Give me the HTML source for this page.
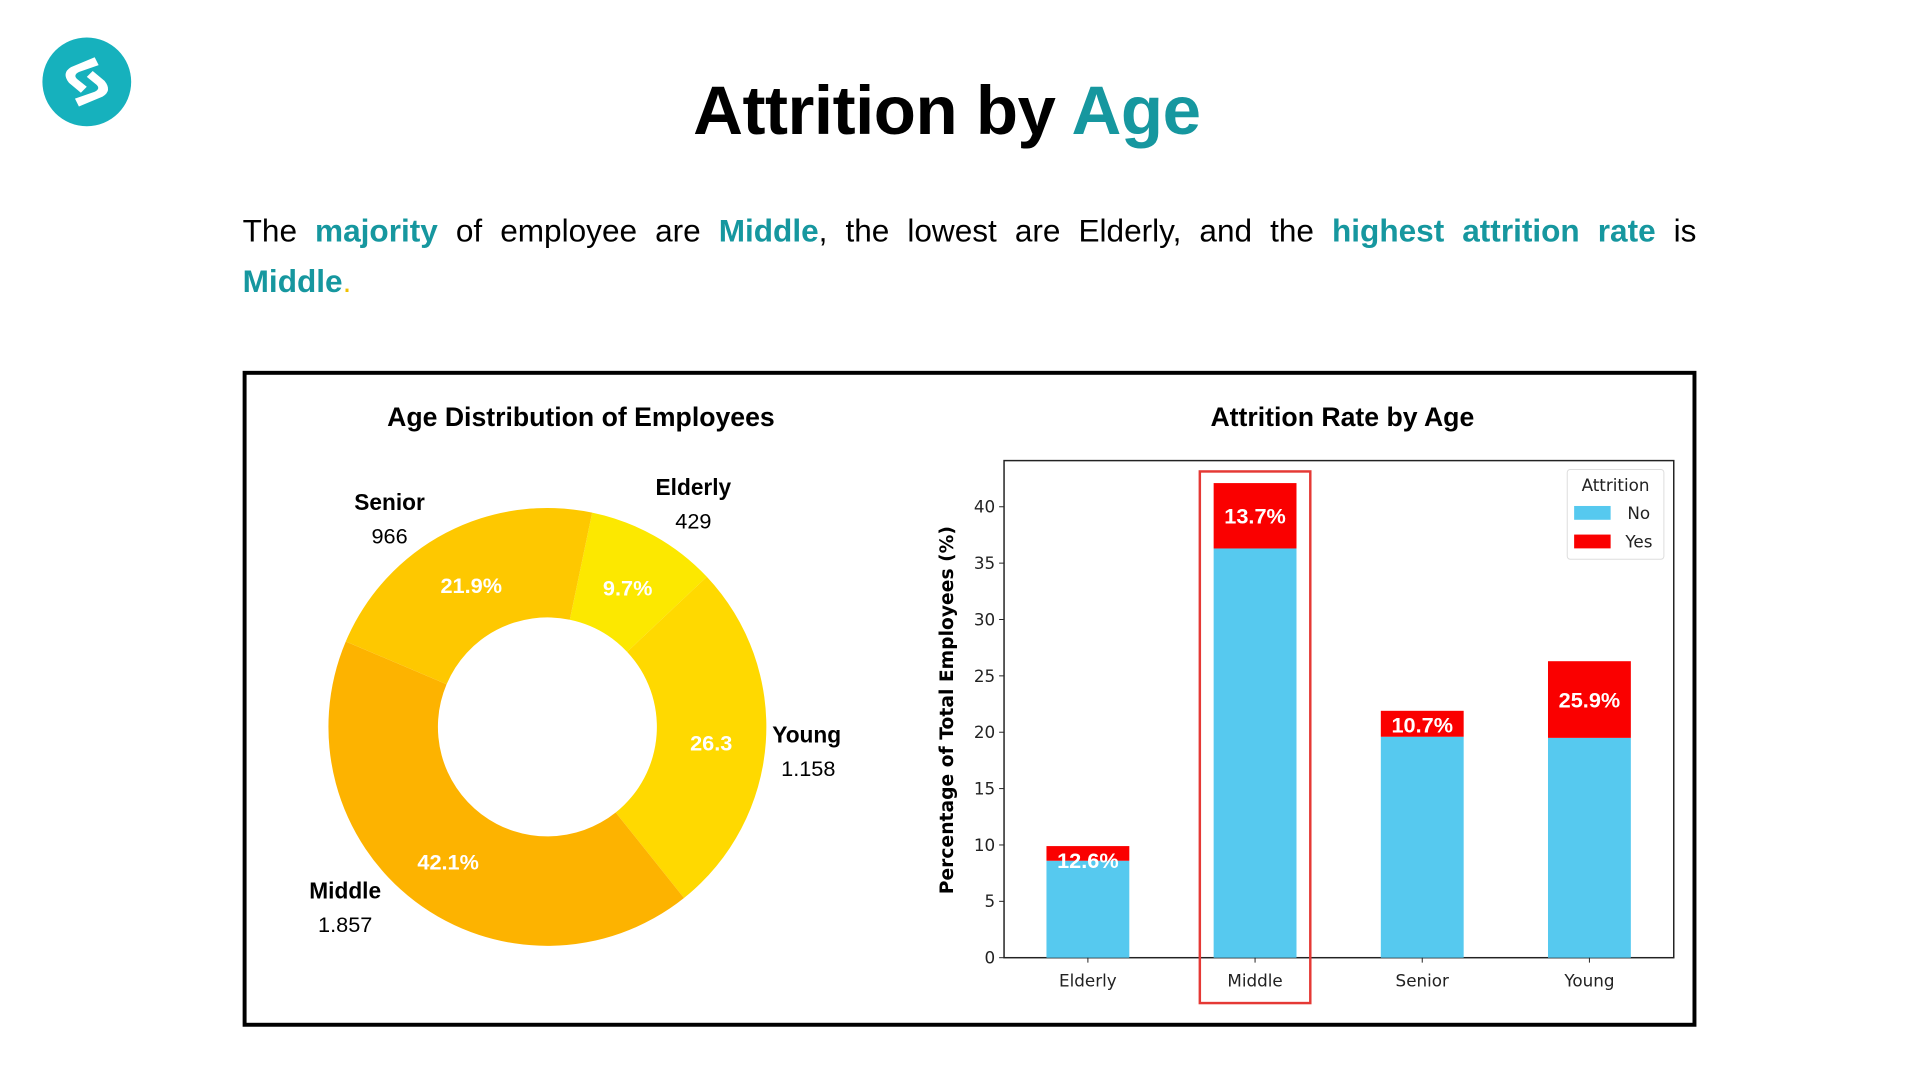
<!DOCTYPE html>
<html><head><meta charset="utf-8"><style>
body{margin:0;width:1920px;height:1080px;background:#fff;position:relative;overflow:hidden;font-family:"Liberation Sans",sans-serif}
#wrap{position:absolute;left:0;top:0;width:1920px;height:1080px;transform:scale(0.9863);transform-origin:0 0}
.t{position:absolute}
.hl{color:#16979f;font-weight:bold}
</style></head><body>
<div id="wrap">
<svg class="t" style="left:0;top:0" width="1920" height="1080">
<g>
<circle cx="88" cy="83" r="45" fill="#16b1bd"/>
<path d="M96 58 L72 68 Q62 74 70 84 L82 94 L88 88 L78 80 Q74 76 80 73 L100 66 Z" fill="#fff"/>
<path d="M80 108 L104 98 Q114 92 106 82 L94 72 L88 78 L98 86 Q102 90 96 93 L76 100 Z" fill="#fff"/>
</g>
</svg>
<div class="t" style="left:0;width:1920px;top:72px;text-align:center;font-size:70px;font-weight:bold;letter-spacing:-0.5px">Attrition by <span style="color:#16979f">Age</span></div>
<div class="t" style="left:246px;width:1474px;top:209px;font-size:32px;line-height:51px">
<div style="text-align:justify;text-align-last:justify">The <span class="hl">majority</span> of employee are <span class="hl">Middle</span>, the lowest are Elderly, and the <span class="hl">highest attrition rate</span> is</div>
<div><span class="hl">Middle</span><span style="color:#f0c000">.</span></div>
</div>
<div class="t" style="left:246px;top:376px;width:1466px;height:657px;border:4px solid #000"></div>
<svg class="t" style="left:0;top:0" width="1920" height="1080" id="charts"></svg>
</div>
<script>
const ageLabels=["Elderly","Young","Middle","Senior"];
const ageCounts=["429","1.158","1.857","966"];
const agePct=[9.7,26.3,42.1,21.9];
const agePctText=["9.7%","26.3","42.1%","21.9%"];
const categories=["Elderly","Middle","Senior","Young"];
const noValues=[8.6,36.3,19.6,19.5];
const yesValues=[1.3,5.8,2.3,6.8];
const rateLabels=["12.6%","13.7%","10.7%","25.9%"];
const yTicks=[0,5,10,15,20,25,30,35,40];
const svg=document.getElementById('charts');
const NS='http://www.w3.org/2000/svg';
function mk(tag,attrs,parent){const e=document.createElementNS(NS,tag);for(const k in attrs)e.setAttribute(k,attrs[k]);(parent||svg).appendChild(e);return e;}
function txt(s,attrs){const e=mk('text',attrs);e.textContent=s;return e;}
// Donut
const cx=555,cy=737,R=222,r=111;
const colors=["#fce800","#ffd900","#fdb300","#fec800"];
const labelPos=[[703,502,"middle"],[783,753,"start"],[350,911,"middle"],[395,517,"middle"]];
let a0=11.8;
const tot=agePct.reduce((s,v)=>s+v,0);
function pt(rad,deg){const t=deg*Math.PI/180;return [cx+rad*Math.sin(t),cy-rad*Math.cos(t)];}
txt("Age Distribution of Employees",{x:589,y:432,'text-anchor':'middle','font-size':27,'font-weight':'bold','font-family':'Liberation Sans, sans-serif'});
for(let i=0;i<agePct.length;i++){
 const a1=a0+agePct[i]/tot*360;
 const p1=pt(R,a0),p2=pt(R,a1),p3=pt(r,a1),p4=pt(r,a0);
 const lg=(a1-a0)>180?1:0;
 const p=mk('path',{d:`M${p1} A${R},${R} 0 ${lg} 1 ${p2} L${p3} A${r},${r} 0 ${lg} 0 ${p4} Z`,fill:colors[i]});
 
 
 const mid=(a0+a1)/2;const lp=pt((R+r)/2,mid);
 const t=txt(agePctText[i],{x:lp[0],y:lp[1]+12,'text-anchor':'middle',fill:'#fff','font-size':22,'font-weight':'bold'});
 
 const L=labelPos[i];
 const n=txt(ageLabels[i],{x:L[0],y:L[1],'text-anchor':L[2],'font-size':23,'font-weight':'bold'});
 
 const c=txt(ageCounts[i],{x:L[0]+(L[2]=='start'?9:0),y:L[1]+34,'text-anchor':L[2],'font-size':22});
 
 a0=a1;
}
// Bar chart
const X0=1018,X1=1697,Y0=971,Ytop=467,ppu=11.43;
const y=v=>Y0-v*ppu;
const xc=i=>1103+169.5*i;
const bw=84;
txt("Attrition Rate by Age",{x:1361,y:432,'text-anchor':'middle','font-size':27,'font-weight':'bold'});
mk('rect',{x:X0,y:Ytop,width:X1-X0,height:Y0-Ytop,fill:'none',stroke:'#222','stroke-width':1.5});
yTicks.forEach(v=>{
 mk('line',{x1:X0-5,x2:X0,y1:y(v),y2:y(v),stroke:'#222'});
 const t=txt(String(v),{x:X0-9,y:y(v)+6,'text-anchor':'end','font-size':17,'font-family':'DejaVu Sans, sans-serif',fill:'#222'});
 
});
const yl=txt("Percentage of Total Employees (%)",{x:0,y:0,transform:'translate(966,720) rotate(-90)','text-anchor':'middle','font-size':19,'font-weight':'bold','font-family':'DejaVu Sans, sans-serif'});

categories.forEach((c,i)=>{
 const b1=mk('rect',{x:xc(i)-bw/2,y:y(noValues[i]),width:bw,height:noValues[i]*ppu,fill:'#56c9ef'});
 
 
 const b2=mk('rect',{x:xc(i)-bw/2,y:y(noValues[i]+yesValues[i]),width:bw,height:yesValues[i]*ppu,fill:'#fa0000'});
 
 
 const ly=yesValues[i]>3?y(noValues[i]+yesValues[i]/2)+8:y(noValues[i]+yesValues[i])+22;
 const t=txt(rateLabels[i],{x:xc(i),y:ly,'text-anchor':'middle',fill:'#fff','font-size':22,'font-weight':'bold'});
 
 mk('line',{x1:xc(i),x2:xc(i),y1:Y0,y2:Y0+5,stroke:'#222'});
 const xl=txt(c,{x:xc(i),y:Y0+29,'text-anchor':'middle','font-size':17,'font-family':'DejaVu Sans, sans-serif',fill:'#222'});
 
});
const hi=mk('rect',{x:xc(1)-56,y:478,width:112,height:539,fill:'none',stroke:'#e53935','stroke-width':2.5});

const lg=mk('rect',{x:1589,y:476,width:98,height:91,rx:3,fill:'#fff',stroke:'#ddd'});

txt("Attrition",{x:1638,y:498,'text-anchor':'middle','font-size':17,'font-family':'DejaVu Sans, sans-serif',fill:'#222'});
mk('rect',{x:1596,y:513,width:37,height:14,fill:'#56c9ef'});
txt("No",{x:1650,y:526,'font-size':17,'font-family':'DejaVu Sans, sans-serif',fill:'#222'});
mk('rect',{x:1596,y:542,width:37,height:14,fill:'#fa0000'});
txt("Yes",{x:1648,y:555,'font-size':17,'font-family':'DejaVu Sans, sans-serif',fill:'#222'});
</script>
</body></html>
